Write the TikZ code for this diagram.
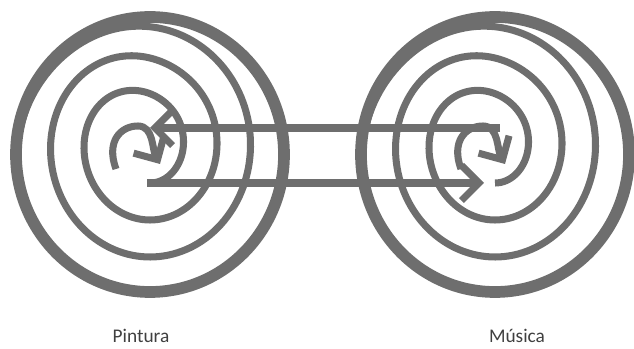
\documentclass[tikz,border=0pt]{standalone}
\usepackage{fontspec}
\setmainfont{Carlito}
\usetikzlibrary{arrows.meta}
\definecolor{spiralgray}{RGB}{110,110,110}
\definecolor{labelgray}{RGB}{64,64,64}
\tikzset{
  declare function={
    stp(\v)=\v-sin(360*\v)/(2*pi);
    turn(\v)=min(3,max(0,stp(stp(\v))));
    srx(\v)=33.5+33.5*turn(\v);
    sry(\v)=41+35.5*turn(\v)-1.67*turn(\v)*(turn(\v)-1)*(turn(\v)-2);
    scy(\v)=1.5*turn(\v)+1.33*turn(\v)*(turn(\v)-1)*(turn(\v)-2);
    sang(\v)=65.16-360*\v;
  },
  coil/.style={draw=spiralgray, line width=6pt, line join=round},
  rim/.style={draw=spiralgray, line width=10pt},
  link/.style={draw=spiralgray, line width=6pt},
  chev/.style={-{Straight Barb[length=15pt, width=30pt]}},
  artname/.style={font=\fontsize{16.5}{20}\selectfont, text=labelgray,
                  anchor=base, inner sep=1pt},
  spiral/.pic={
    \draw[coil] plot[domain=-0.069:3.55, samples=500, variable=\u]
      ({srx(\u)*cos(sang(\u))}, {scy(\u)+sry(\u)*sin(sang(\u))});
    \draw[rim] (0,12.5) ellipse [x radius=134, y radius=137.5];
    % inner curl ending in the arrow head
    \draw[coil, chev] (-34,27) .. controls (-44,0) and (-30,-16) .. (-12,-16)
      .. controls (4,-16) and (2,8) .. (10,22);
  }
}
\begin{document}
\begin{tikzpicture}[x=0.03cm, y=-0.03cm]
  \useasboundingbox (0,0) rectangle (634,349);

  \pic at (150,142) {spiral};
  \pic at (495,142) {spiral};

  \coordinate (topR) at (500,128);
  \coordinate (topL) at (150,128);
  \coordinate (botL) at (147,183);
  \coordinate (botR) at (484,183);
  \draw[link, chev] (topR) -- (topL);
  \draw[link, chev] (botL) -- (botR);

  \node[artname] (pintura) at (141,343) {Pintura};
  \node[artname] (musica)  at (517,343) {Música};
\end{tikzpicture}
\end{document}
